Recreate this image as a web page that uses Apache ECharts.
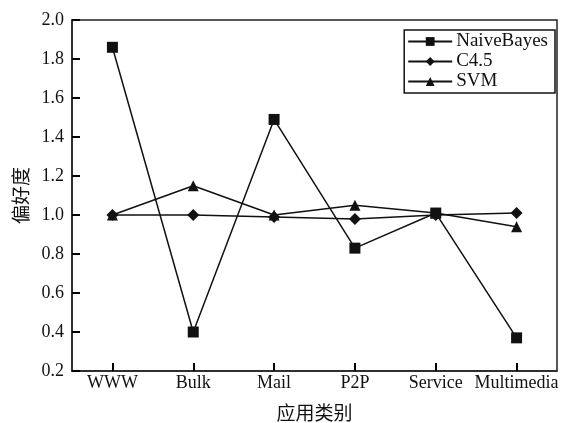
<!DOCTYPE html>
<html><head><meta charset="utf-8">
<script src="https://cdn.jsdelivr.net/npm/echarts@6/dist/echarts.min.js"></script>
<style>html,body{margin:0;padding:0;background:#fff}#c{width:578px;height:423px}</style>
</head><body><div id="c"></div>
<script>
const categories = ['WWW','Bulk','Mail','P2P','Service','Multimedia'];
const naiveBayes = [1.86, 0.40, 1.49, 0.83, 1.01, 0.37];
const c45 = [1.00, 1.00, 0.99, 0.98, 1.00, 1.01];
const svm = [1.00, 1.15, 1.00, 1.05, 1.01, 0.94];
const yTicks = [0.2,0.4,0.6,0.8,1.0,1.2,1.4,1.6,1.8,2.0];

const serif = '"Liberation Serif","DejaVu Serif",serif';
const cjk = '"Noto Sans CJK SC",sans-serif';
const chart = echarts.init(document.getElementById('c'));
function s(name, data, symbol, size){
  return {name, type:'line', data, symbol, symbolSize:size,
    lineStyle:{color:'#111', width:1.5}, itemStyle:{color:'#111'}, animation:false};
}
chart.setOption({
  backgroundColor:'#fff',
  grid:{left:72, right:21, top:20, bottom:52, show:true, borderColor:'#222', borderWidth:1.5,
        backgroundColor:'transparent', containLabel:false, outerBoundsMode:'none'},
  legend:{
    right:23, top:30, orient:'vertical', itemGap:1, itemWidth:44, itemHeight:11,
    borderColor:'#111', borderWidth:1.5, padding:[2,7,2,3],
    textStyle:{fontFamily:serif, fontSize:19, color:'#111', padding:[0,0,0,-1]},
    data:['NaiveBayes','C4.5','SVM']
  },
  xAxis:{
    type:'category', data:categories, boundaryGap:true, z:10,
    axisLine:{lineStyle:{color:'#222', width:1.5}},
    axisTick:{show:true, inside:true, alignWithLabel:true, interval:0, length:8, lineStyle:{color:'#000', width:2}},
    axisLabel:{interval:0, fontFamily:serif, fontSize:18, color:'#111', margin:3},
    name:'应用类别', nameLocation:'middle', nameGap:32,
    nameTextStyle:{fontFamily:cjk, fontSize:19, color:'#111'}
  },
  yAxis:{
    type:'value', min:yTicks[0], max:yTicks[yTicks.length-1], interval:0.2, z:10,
    axisLine:{show:true, lineStyle:{color:'#222', width:1.5}},
    axisTick:{show:true, inside:true, length:8, lineStyle:{color:'#000', width:2}},
    splitLine:{show:false},
    axisLabel:{fontFamily:serif, fontSize:18, color:'#111', margin:8, formatter:v=>v.toFixed(1)},
    name:'偏好度', nameLocation:'middle', nameGap:37, nameRotate:90,
    nameTextStyle:{fontFamily:cjk, fontSize:19, color:'#111'}
  },
  series:[
    s('NaiveBayes', naiveBayes, 'rect', 11),
    s('C4.5', c45, 'diamond', 12),
    s('SVM', svm, 'triangle', 11)
  ]
});
</script></body></html>
